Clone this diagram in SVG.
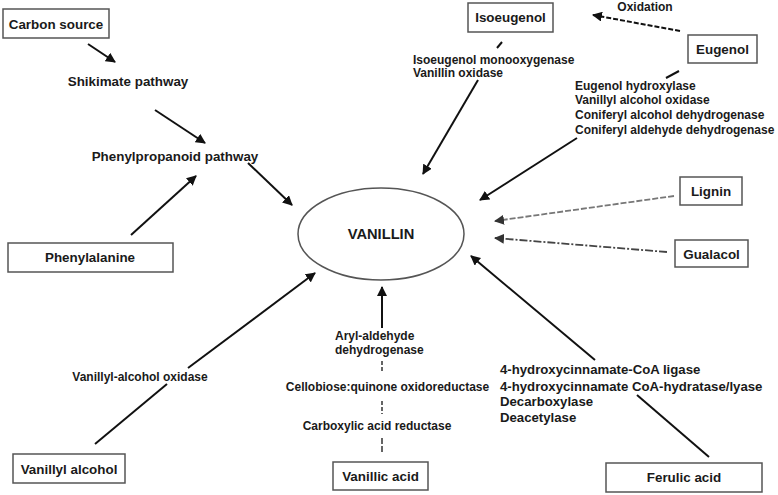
<svg xmlns="http://www.w3.org/2000/svg" width="778" height="495" viewBox="0 0 778 495">
<defs>
<marker id="ah" viewBox="0 0 10 10" refX="9" refY="5" markerWidth="10" markerHeight="10" markerUnits="userSpaceOnUse" orient="auto">
<path d="M0,0 L10,5 L0,10 z" fill="#111"/>
</marker>
<marker id="ahg" viewBox="0 0 10 10" refX="9" refY="5" markerWidth="10" markerHeight="10" markerUnits="userSpaceOnUse" orient="auto">
<path d="M0,0 L10,5 L0,10 z" fill="#333"/>
</marker>
</defs>
<style>
text{font-family:"Liberation Sans",Arial,sans-serif;font-weight:bold;fill:#1a1a1a}
.box rect{fill:#fff;stroke:#555;stroke-width:1.5}
.lbl{font-size:13.4px;text-anchor:middle}
.enz{font-size:12px}
.fer{font-size:13.2px}
.ln{stroke:#111;stroke-width:2;fill:none}
.ar{stroke:#111;stroke-width:2;fill:none;marker-end:url(#ah)}
</style>
<rect width="778" height="495" fill="#fff"/>

<g id="connectors">
<line class="ar" x1="88" y1="44" x2="115" y2="62"/>
<line class="ar" x1="155" y1="110" x2="205" y2="143"/>
<line class="ar" x1="131" y1="235" x2="196" y2="176"/>
<line class="ar" x1="248" y1="163" x2="292" y2="205"/>
<line class="ln" x1="95" y1="444" x2="167" y2="384"/>
<line class="ar" x1="188" y1="368" x2="315" y2="273"/>
<line class="ln" x1="502" y1="42" x2="497" y2="48"/>
<line class="ar" x1="478" y1="80" x2="423" y2="174"/>
<line class="ar" x1="680" y1="31" x2="593" y2="15" stroke-dasharray="5,2"/>
<line class="ln" x1="679" y1="71" x2="666" y2="78"/>
<line class="ar" x1="577" y1="138" x2="480" y2="200"/>
<line x1="674" y1="196" x2="495" y2="221" stroke="#777" stroke-width="1.8" stroke-dasharray="6,2" marker-end="url(#ahg)"/>
<line x1="667" y1="252" x2="495" y2="238" stroke="#444" stroke-width="1.8" stroke-dasharray="8,2,2,2" marker-end="url(#ahg)"/>
<line class="ar" x1="382" y1="328" x2="382" y2="287" stroke-width="1.5"/>
<line x1="382" y1="361" x2="382" y2="371" stroke="#333" stroke-width="1.5" stroke-dasharray="4,2"/>
<line x1="382" y1="401" x2="382" y2="414" stroke="#333" stroke-width="1.5" stroke-dasharray="4,2"/>
<line x1="382" y1="438" x2="382" y2="452" stroke="#333" stroke-width="1.5" stroke-dasharray="6,2"/>
<line class="ln" x1="709" y1="457" x2="637" y2="395"/>
<line class="ar" x1="595" y1="360" x2="471" y2="256"/>
</g>

<g id="carbon-source" class="box"><rect x="3" y="9" width="106" height="29"/><text class="lbl" x="56" y="28.5">Carbon source</text></g>
<g id="shikimate"><text class="lbl" x="128" y="85.5">Shikimate pathway</text></g>
<g id="phenylpropanoid"><text class="lbl" x="175" y="160.5">Phenylpropanoid pathway</text></g>
<g id="phenylalanine" class="box"><rect x="8" y="243" width="165" height="29"/><text class="lbl" x="90" y="261.5">Phenylalanine</text></g>
<g id="vanillin"><ellipse cx="381" cy="234" rx="83" ry="46" fill="#fff" stroke="#555" stroke-width="1.5"/><text x="381" y="239" font-size="14.7" text-anchor="middle">VANILLIN</text></g>
<g id="isoeugenol" class="box"><rect x="468" y="3" width="85" height="29"/><text class="lbl" x="510.5" y="22">Isoeugenol</text></g>
<g id="eugenol" class="box"><rect x="688" y="35" width="69" height="28"/><text class="lbl" x="722.5" y="53.5">Eugenol</text></g>
<g id="lignin" class="box"><rect x="680" y="177" width="62" height="28"/><text class="lbl" x="711" y="195.5">Lignin</text></g>
<g id="gualacol" class="box"><rect x="675" y="240" width="73" height="27"/><text class="lbl" x="711.5" y="258.5">Gualacol</text></g>
<g id="vanillyl-alcohol" class="box"><rect x="13" y="454" width="112" height="29"/><text class="lbl" x="69" y="473.5">Vanillyl alcohol</text></g>
<g id="vanillic-acid" class="box"><rect x="333" y="462" width="95" height="28"/><text class="lbl" x="380.5" y="481">Vanillic acid</text></g>
<g id="ferulic-acid" class="box"><rect x="606" y="463" width="156" height="29"/><text class="lbl" x="684" y="482">Ferulic acid</text></g>

<g id="labels">
<text class="enz" x="645" y="11" text-anchor="middle">Oxidation</text>
<text class="enz" x="413" y="64">Isoeugenol monooxygenase</text>
<text class="enz" x="413" y="77">Vanillin oxidase</text>
<text class="enz" x="575" y="90">Eugenol hydroxylase</text>
<text class="enz" x="575" y="104">Vanillyl alcohol oxidase</text>
<text class="enz" x="575" y="118.5">Coniferyl alcohol dehydrogenase</text>
<text class="enz" x="575" y="133.5">Coniferyl aldehyde dehydrogenase</text>
<text class="enz" x="140" y="381" text-anchor="middle">Vanillyl-alcohol oxidase</text>
<text class="enz" x="335" y="340">Aryl-aldehyde</text>
<text class="enz" x="335" y="354">dehydrogenase</text>
<text class="enz" x="387.5" y="391" text-anchor="middle">Cellobiose:quinone oxidoreductase</text>
<text class="enz" x="377" y="430" text-anchor="middle">Carboxylic acid reductase</text>
<text class="fer" x="500" y="373.5">4-hydroxycinnamate-CoA ligase</text>
<text class="fer" x="500" y="390.5">4-hydroxycinnamate CoA-hydratase/lyase</text>
<text class="fer" x="500" y="405.5">Decarboxylase</text>
<text class="fer" x="500" y="421.5">Deacetylase</text>
</g>
</svg>
